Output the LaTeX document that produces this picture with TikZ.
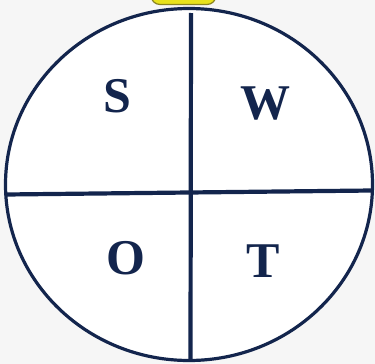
\documentclass[tikz,border=0pt]{standalone}
\usepackage{fontspec}
\setmainfont{Liberation Serif}[BoldFont={Liberation Serif Bold}]
\newfontfamily\tnrbold{Liberation Serif Bold}
\definecolor{navy}{HTML}{13254D}
\definecolor{bgpat}{HTML}{F6F6F6}
\definecolor{sunyel}{HTML}{E8E21C}
\definecolor{sunedge}{HTML}{8A8420}
\tikzset{
  letter/.style={text=navy, font=\tnrbold\fontsize{50}{50}\selectfont, inner sep=0pt},
  divider/.style={draw=navy, line width=4.2pt},
}
\begin{document}
\begin{tikzpicture}[x=1pt,y=-1pt]
\useasboundingbox (0,0) rectangle (375,364);
\fill[bgpat] (0,0) rectangle (375,364);
\begin{scope}
\clip (0,0) rectangle (375,364);
\draw[fill=sunyel, draw=sunedge, line width=1.2pt, rounded corners=9pt] (151,-20) rectangle (216,4.5);
\end{scope}
\draw[fill=white, draw=navy, line width=3.2pt] (189,184.5) ellipse [x radius=183.5, y radius=176];
\coordinate (vt) at (191,13);
\coordinate (vb) at (190.5,360);
\coordinate (hl) at (6,194.5);
\coordinate (hr) at (372,190.5);
\draw[divider] (vt) -- (vb);
\draw[divider] (hl) -- (hr);
\node[letter] (s) at (117.5,96) {S};
\node[letter] (w) at (265,104) {W};
\node[letter] (o) at (125.5,258) {O};
\node[letter] (t) at (263.5,261) {T};
\end{tikzpicture}
\end{document}
